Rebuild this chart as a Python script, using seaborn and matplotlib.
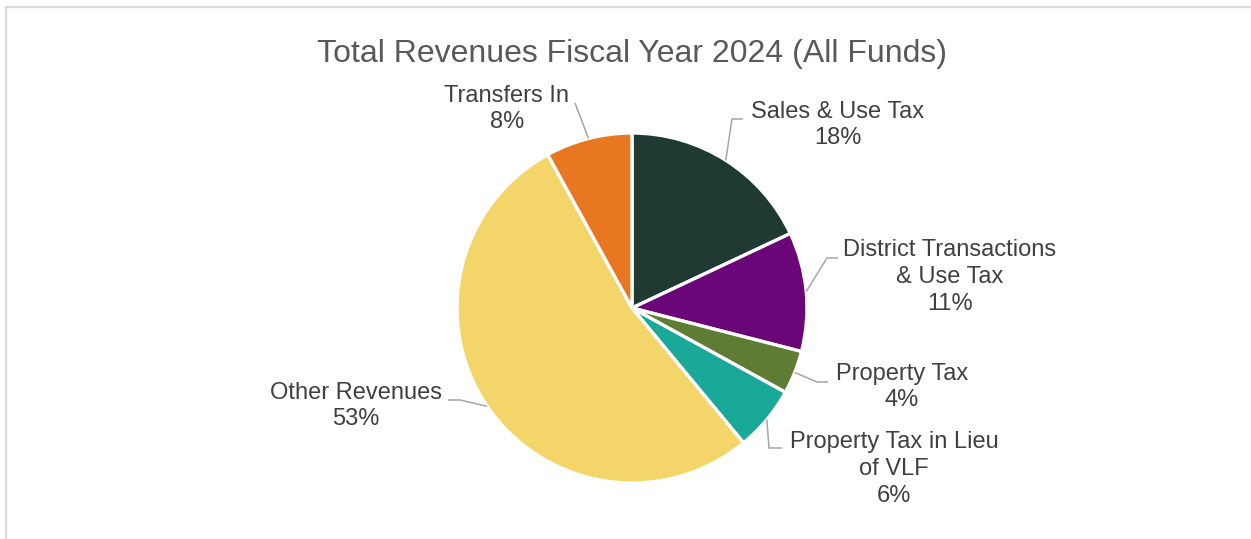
import numpy as np
import matplotlib
matplotlib.use("Agg")
import matplotlib.pyplot as plt
from matplotlib.patches import Rectangle
import seaborn as sns

# Revenue categories and their shares (%)
categories = [
    "Sales & Use Tax",
    "District Transactions\n& Use Tax",
    "Property Tax",
    "Property Tax in Lieu\nof VLF",
    "Other Revenues",
    "Transfers In",
]
shares = [18, 11, 4, 6, 53, 8]
colors = ["#1e3a32", "#6b0679", "#5e7c33", "#1aa898", "#f4d56a", "#e87722"]

# Label block centres and leader-line elbows, in pixels of the 1251x539 canvas
label_pos_px = [(838, 125), (950, 277), (902, 387), (894, 469), (356, 406), (507, 109)]
elbow_px = [(732, 119), (827, 258), (817, 382), (769, 448), (460, 400), (575, 103)]
hook_px = [(743, 119), (838, 258), (828, 382), (782, 448), (448, 400), (575, 103)]

W, H = 1251, 539
CX, CY, R = 632, 308, 175

sns.set_theme(style="white")
plt.rcParams["font.family"] = ["Liberation Sans", "DejaVu Sans"]

fig = plt.figure(figsize=(W / 100, H / 100), dpi=100)
fig.patch.set_facecolor("white")

ax = fig.add_axes([(CX - R) / W, (H - CY - R) / H, 2 * R / W, 2 * R / H])
wedges, _ = ax.pie(
    shares,
    colors=sns.color_palette(colors),
    startangle=90,
    counterclock=False,
    radius=1.0,
    wedgeprops=dict(edgecolor="white", linewidth=2.4),
)
ax.set_xlim(-1, 1)
ax.set_ylim(-1, 1)
ax.set_aspect("equal")
ax.axis("off")


def to_data(p):
    return ((p[0] - CX) / R, (CY - p[1]) / R)


text_color = "#404040"
line_color = "#a6a6a6"
for w, name, share, lp, ep, hp in zip(wedges, categories, shares, label_pos_px, elbow_px, hook_px):
    mid = np.deg2rad((w.theta1 + w.theta2) / 2)
    start = (np.cos(mid), np.sin(mid))
    e = to_data(ep)
    h = to_data(hp)
    ax.plot([start[0], e[0], h[0]], [start[1], e[1], h[1]],
            color=line_color, lw=1.1, clip_on=False, solid_capstyle="butt")
    tx, ty = to_data(lp)
    ax.text(tx, ty, f"{name}\n{share}%", ha="center", va="center",
            fontsize=17, color=text_color, linespacing=1.28, clip_on=False)

fig.text(CX / W, 1 - 54 / H, "Total Revenues Fiscal Year 2024 (All Funds)",
         ha="center", va="center", fontsize=23, color="#595959")

# Light chart-area border running off the right and bottom edges
fig.add_artist(Rectangle((6 / W, -0.1), 1.2, 1.1 - 7 / H, transform=fig.transFigure,
                         fill=False, edgecolor="#d9d9d9", linewidth=1.6))

fig.savefig("out.png", dpi=100, facecolor="white")
